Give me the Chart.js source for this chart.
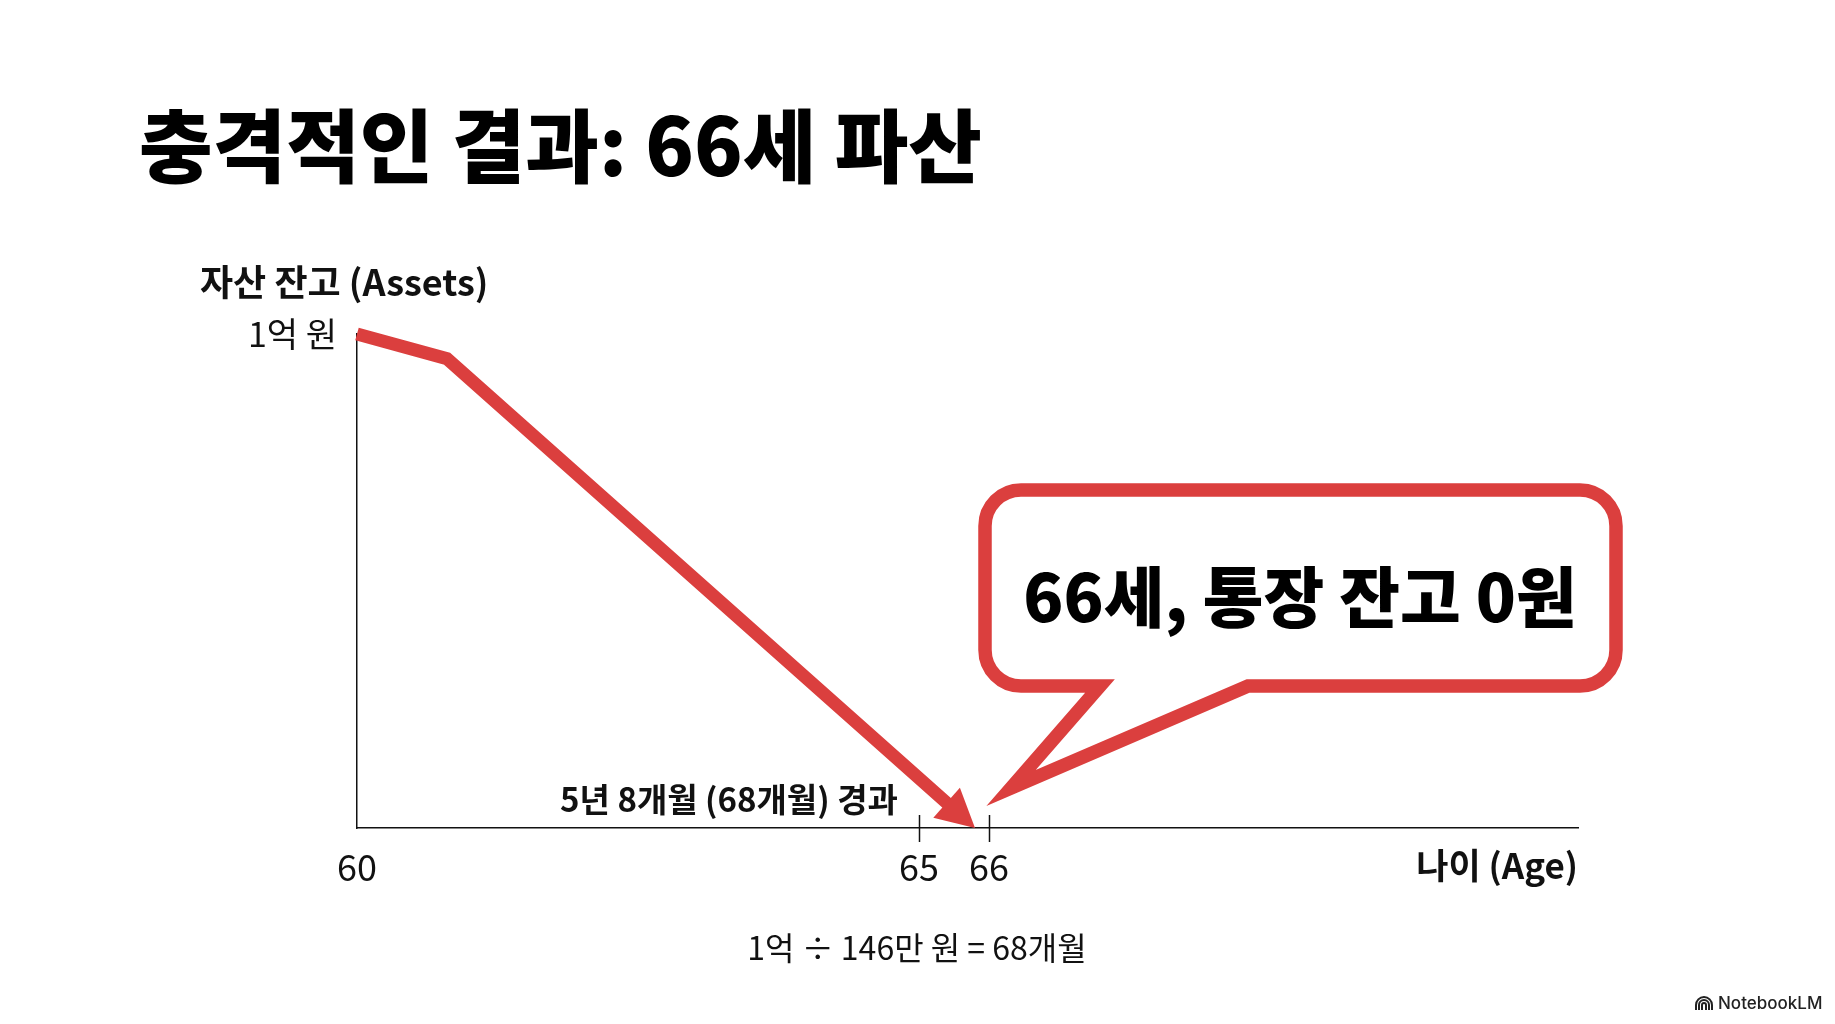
<!DOCTYPE html>
<html><head><meta charset="utf-8">
<script src="https://cdn.jsdelivr.net/npm/chart.js@4.4.1/dist/chart.umd.min.js"></script>
<style>html,body{margin:0;padding:0;background:#fff;}canvas{display:block;}</style>
</head><body>
<canvas id="c" width="1835" height="1024"></canvas>
<script>
// ---- data ----
const ages = [60, 60.8, 65.8];
const assetsEok = [1, 0.95, 0];
const xTickValues = [60, 65, 66];
const xTickLabels = ['60', '65', '66'];
const yTickValues = [1];
const yTickLabels = ['1억 원'];
const ageBreaks = [60, 65, 66, 71];
const ageBreakFrac = [0, 0.4603, 0.5176, 1];
const titleText = '충격적인 결과: 66세 파산';
const yTitle = '자산 잔고 (Assets)';
const xTitle = '나이 (Age)';
const periodNote = '5년 8개월 (68개월) 경과';
const formulaNote = '1억 ÷ 146만 원 = 68개월';
const calloutText = '66세, 통장 잔고 0원';

const RED = '#DB3F3E';
const INK = '#111111';
const FONT = '"Noto Sans CJK KR", "Noto Sans", sans-serif';

function warp(v) {
  for (let i = 0; i < ageBreaks.length - 1; i++) {
    if (v <= ageBreaks[i + 1] || i === ageBreaks.length - 2) {
      const t = (v - ageBreaks[i]) / (ageBreaks[i + 1] - ageBreaks[i]);
      return ageBreakFrac[i] + t * (ageBreakFrac[i + 1] - ageBreakFrac[i]);
    }
  }
}
function unwarp(d) {
  for (let i = 0; i < ageBreakFrac.length - 1; i++) {
    if (d <= ageBreakFrac[i + 1] || i === ageBreakFrac.length - 2) {
      const t = (d - ageBreakFrac[i]) / (ageBreakFrac[i + 1] - ageBreakFrac[i]);
      return ageBreaks[i] + t * (ageBreaks[i + 1] - ageBreaks[i]);
    }
  }
}
class WarpScale extends Chart.LinearScale {
  getPixelForValue(value) { return value === null ? NaN : this.getPixelForDecimal(warp(value)); }
  getValueForPixel(pixel) { return unwarp(this.getDecimalForPixel(pixel)); }
}
WarpScale.id = 'warp';
WarpScale.defaults = Chart.LinearScale.defaults;
Chart.register(WarpScale);

function arrowGeom(chart) {
  const meta = chart.getDatasetMeta(0);
  const pts = meta.data;
  const p2 = pts[pts.length - 1], p1 = pts[pts.length - 2];
  let ux = p2.x - p1.x, uy = p2.y - p1.y;
  const len = Math.hypot(ux, uy); ux /= len; uy /= len;
  return { tip: { x: p2.x, y: p2.y }, ux, uy, nx: -uy, ny: ux };
}

const decor = {
  id: 'decor',
  beforeDatasetsDraw(chart) {
    const ctx = chart.ctx;
    const g = arrowGeom(chart);
    const cx = g.tip.x - g.ux * 15, cy = g.tip.y - g.uy * 15;
    const L = 5000;
    ctx.save();
    ctx.beginPath();
    ctx.moveTo(cx + g.nx * L, cy + g.ny * L);
    ctx.lineTo(cx + g.nx * L - g.ux * L, cy + g.ny * L - g.uy * L);
    ctx.lineTo(cx - g.nx * L - g.ux * L, cy - g.ny * L - g.uy * L);
    ctx.lineTo(cx - g.nx * L, cy - g.ny * L);
    ctx.closePath();
    ctx.clip();
  },
  afterDatasetsDraw(chart) {
    const ctx = chart.ctx;
    ctx.restore();
    const g = arrowGeom(chart);
    const AL = 38, AW = 20;
    const bx = g.tip.x - g.ux * AL, by = g.tip.y - g.uy * AL;
    ctx.save();
    ctx.fillStyle = RED;
    ctx.beginPath();
    ctx.moveTo(g.tip.x, g.tip.y);
    ctx.lineTo(bx + g.nx * AW, by + g.ny * AW);
    ctx.lineTo(bx - g.nx * AW, by - g.ny * AW);
    ctx.closePath();
    ctx.fill();
    ctx.restore();
  },
  afterDraw(chart) {
    const ctx = chart.ctx;
    const xs = chart.scales.x, ys = chart.scales.y;
    const area = chart.chartArea;
    const y0 = ys.getPixelForValue(0);
    ctx.save();
    // crossing tick marks
    ctx.strokeStyle = INK; ctx.lineWidth = 1.5;
    xs.ticks.forEach((t, i) => {
      if (t.value <= xs.min) return;
      const x = Math.round(xs.getPixelForTick(i)) + 0.5;
      ctx.beginPath(); ctx.moveTo(x, y0 - 13); ctx.lineTo(x, y0 + 14); ctx.stroke();
    });
    ctx.fillStyle = '#000';
    // title
    ctx.textBaseline = 'middle'; ctx.textAlign = 'left';
    ctx.font = `900 80px ${FONT}`;
    ctx.fillText(titleText, 139, 146);
    ctx.fillStyle = INK;
    // y title
    ctx.font = `bold 36px ${FONT}`;
    ctx.fillText(yTitle, 200, 282);
    // x title
    ctx.textAlign = 'right';
    ctx.font = `bold 35px ${FONT}`;
    ctx.fillText(xTitle, area.right, 866);
    // period note
    ctx.textAlign = 'center';
    ctx.font = `bold 33px ${FONT}`;
    ctx.fillText(periodNote, 729, 799);
    // formula
    ctx.font = `32px ${FONT}`;
    ctx.fillText(formulaNote, 917, 948);

    // callout bubble
    const l = 985, t = 490, r = 1616, b = 686, rad = 36;
    const tailL = 1100, tailR = 1248;
    const tip = { x: xs.getPixelForValue(66) + 22, y: y0 - 40 };
    ctx.beginPath();
    ctx.moveTo(l + rad, t);
    ctx.lineTo(r - rad, t); ctx.arcTo(r, t, r, t + rad, rad);
    ctx.lineTo(r, b - rad); ctx.arcTo(r, b, r - rad, b, rad);
    ctx.lineTo(tailR, b); ctx.lineTo(tip.x, tip.y); ctx.lineTo(tailL, b);
    ctx.lineTo(l + rad, b); ctx.arcTo(l, b, l, b - rad, rad);
    ctx.lineTo(l, t + rad); ctx.arcTo(l, t, l + rad, t, rad);
    ctx.closePath();
    ctx.fillStyle = '#ffffff'; ctx.fill();
    ctx.strokeStyle = RED; ctx.lineWidth = 13.5; ctx.lineJoin = 'miter'; ctx.miterLimit = 10;
    ctx.stroke();
    ctx.fillStyle = '#000';
    ctx.textAlign = 'center'; ctx.textBaseline = 'middle';
    ctx.font = `900 66px ${FONT}`;
    ctx.fillText(calloutText, 1300, 597);

    // watermark
    ctx.strokeStyle = '#222'; ctx.lineWidth = 2;
    [8, 5, 2].forEach(rr => {
      ctx.beginPath();
      ctx.moveTo(1704 - rr, 1010); ctx.lineTo(1704 - rr, 1005);
      ctx.arc(1704, 1005, rr, Math.PI, 0);
      ctx.lineTo(1704 + rr, 1010);
      ctx.stroke();
    });
    ctx.fillStyle = '#222';
    ctx.textAlign = 'left';
    ctx.font = `500 17px Inter, ${FONT}`;
    ctx.fillText('NotebookLM', 1718, 1004);
    ctx.restore();
  }
};

new Chart(document.getElementById('c'), {
  type: 'line',
  data: {
    datasets: [{
      data: ages.map((a, i) => ({ x: a, y: assetsEok[i] })),
      borderColor: RED, borderWidth: 13, pointRadius: 0, tension: 0,
      fill: false, clip: false, borderJoinStyle: 'miter', borderCapStyle: 'butt'
    }]
  },
  options: {
    responsive: false, animation: false, devicePixelRatio: 1,
    layout: { padding: { left: 0, top: 334, right: 257, bottom: 0 } },
    plugins: { legend: { display: false }, tooltip: { enabled: false }, title: { display: false } },
    scales: {
      x: {
        type: 'warp', min: 60, max: 71,
        afterBuildTicks: s => { s.ticks = xTickValues.map(v => ({ value: v })); },
        afterFit: s => { s.height = 196; },
        ticks: { callback: (v, i) => xTickLabels[i], autoSkip: false, maxRotation: 0, padding: 18,
                 color: INK, font: { family: FONT, size: 36 } },
        grid: { display: false, drawTicks: false },
        border: { display: true, color: INK, width: 1.5 }
      },
      y: {
        type: 'linear', min: 0, max: 1,
        afterBuildTicks: s => { s.ticks = yTickValues.map(v => ({ value: v })); },
        afterFit: s => { s.width = 357; },
        ticks: { callback: (v, i) => yTickLabels[i], padding: 20, color: INK, font: { family: FONT, size: 34 } },
        grid: { display: false, drawTicks: false },
        border: { display: true, color: INK, width: 1.5 }
      }
    }
  },
  plugins: [decor]
});
</script>
</body></html>
